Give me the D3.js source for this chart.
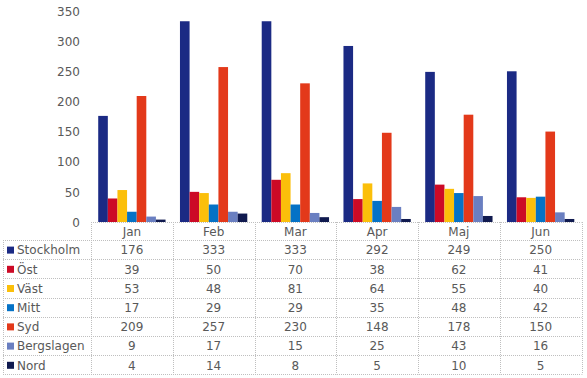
<!DOCTYPE html>
<html><head><meta charset="utf-8">
<script src="https://cdn.jsdelivr.net/npm/d3@7"></script>
<style>body{margin:0;background:#fff}svg{display:block}</style>
</head><body>
<script>
const months = ["Jan","Feb","Mar","Apr","Maj","Jun"];
const seriesNames = ["Stockholm","Öst","Väst","Mitt","Syd","Bergslagen","Nord"];
const stockholm = [176,333,333,292,249,250];
const ost = [39,50,70,38,62,41];
const vast = [53,48,81,64,55,40];
const mitt = [17,29,29,35,48,42];
const syd = [209,257,230,148,178,150];
const bergslagen = [9,17,15,25,43,16];
const nord = [4,14,8,5,10,5];
const colors = ["#1b2a84","#cc0a26","#fbbf0a","#0572c6","#e3391a","#6a7fc1","#101a4f"];
const yTicks = [0,50,100,150,200,250,300,350];

const values = [stockholm, ost, vast, mitt, syd, bergslagen, nord];

const W = 587, H = 378;
const svg = d3.select("body").append("svg").attr("width", W).attr("height", H);
const font = "DejaVu Sans, Verdana, sans-serif";
const txt = "#595959";
const grid = "#bfbfbf";

const pLeft = 91, pRight = 581.5, pTop = 11, pBase = 222;
const x = d3.scaleBand().domain(months).range([pLeft, pRight]).paddingInner(0).paddingOuter(0);
const x1 = d3.scaleBand().domain(seriesNames).range([0, x.bandwidth()]).paddingOuter(0.75).paddingInner(0);
const y = d3.scaleLinear().domain([0, 350]).range([pBase, pTop]);

// y axis labels
const yAxis = d3.axisLeft(y).tickValues(yTicks).tickSize(0).tickPadding(0);
const ga = svg.append("g").attr("transform", `translate(${pLeft-11},0)`).call(yAxis);
ga.select(".domain").remove();
ga.selectAll("text").attr("font-family", font).attr("font-size", 12).attr("fill", txt).attr("dy", "0.35em");

// bars
seriesNames.forEach((s, si) => {
  svg.append("g").selectAll("rect").data(months).join("rect")
    .attr("x", d => x(d) + x1(s))
    .attr("width", x1.bandwidth())
    .attr("y", (d, i) => y(values[si][i]))
    .attr("height", (d, i) => pBase - y(values[si][i]))
    .attr("fill", colors[si]);
});

// table
const rowTop = 240, rowH = 19.2;
const tableLeft = 3;
const lineStyle = sel => sel.attr("stroke", grid).attr("stroke-width", 1).attr("stroke-dasharray", "1,1").attr("fill", "none");
const tg = svg.append("g");
const nRows = seriesNames.length;
const tBottom = rowTop + nRows * rowH;
tg.append("line").attr("x1", pLeft).attr("x2", pRight).attr("y1", pBase + 0.5).attr("y2", pBase + 0.5).call(lineStyle);
for (let r = 0; r <= nRows; r++) {
  const yy = Math.round(rowTop + r * rowH) + 0.5;
  tg.append("line").attr("x1", tableLeft).attr("x2", pRight).attr("y1", yy).attr("y2", yy).call(lineStyle);
}
tg.append("line").attr("x1", tableLeft + 0.5).attr("x2", tableLeft + 0.5).attr("y1", rowTop).attr("y2", tBottom).call(lineStyle);
months.concat(["end"]).forEach((m) => {
  const xx = Math.round(m === "end" ? pRight : x(m)) + 0.5;
  tg.append("line").attr("x1", xx).attr("x2", xx).attr("y1", pBase).attr("y2", tBottom).call(lineStyle);
});
tg.selectAll("text.hdr").data(months).join("text").attr("class", "hdr")
  .attr("x", d => x(d) + x.bandwidth() / 2).attr("y", (pBase + rowTop) / 2 + 1)
  .attr("dy", "0.35em").attr("text-anchor", "middle")
  .attr("font-family", font).attr("font-size", 12).attr("fill", txt).text(d => d);
seriesNames.forEach((s, si) => {
  const cy = rowTop + si * rowH + rowH / 2 + 0.5;
  tg.append("rect").attr("x", 7).attr("y", cy - 3.5).attr("width", 7).attr("height", 7).attr("fill", colors[si]);
  tg.append("text").attr("x", 17).attr("y", cy).attr("dy", "0.35em")
    .attr("font-family", font).attr("font-size", 12).attr("fill", txt).text(s);
  tg.selectAll(null).data(months).join("text")
    .attr("x", d => x(d) + x.bandwidth() / 2).attr("y", cy).attr("dy", "0.35em").attr("text-anchor", "middle")
    .attr("font-family", font).attr("font-size", 12).attr("fill", txt)
    .text((d, i) => values[si][i]);
});
</script>
</body></html>
